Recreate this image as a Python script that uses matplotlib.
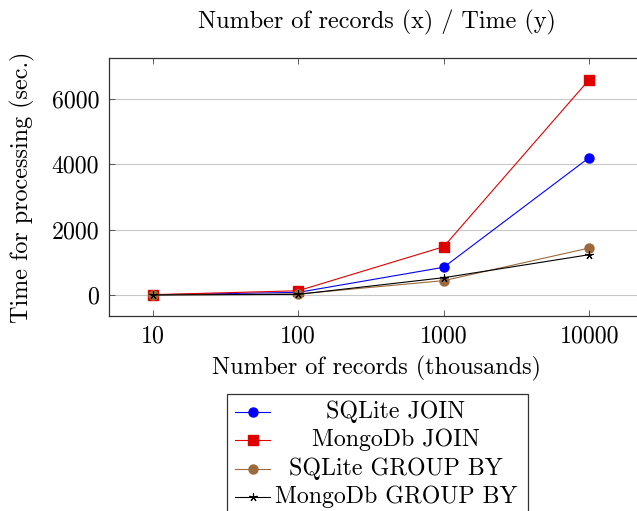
import matplotlib
matplotlib.use("Agg")
import matplotlib.pyplot as plt
from matplotlib.lines import Line2D
from matplotlib.patches import Rectangle

plt.rcParams["font.family"] = "cmr10"
plt.rcParams["axes.formatter.use_mathtext"] = True
plt.rcParams["mathtext.fontset"] = "cm"

# data
records = [10, 100, 1000, 10000]
sqlite_join = [5, 80, 850, 4210]
mongo_join = [10, 130, 1480, 6600]
sqlite_group = [3, 30, 440, 1440]
mongo_group = [2, 20, 530, 1235]

series_labels = ["SQLite JOIN", "MongoDb JOIN", "SQLite GROUP BY", "MongoDb GROUP BY"]
x_tick_labels = ["10", "100", "1000", "10000"]
y_ticks = [0, 2000, 4000, 6000]

title = "Number of records (x) / Time (y)"
x_title = "Number of records (thousands)"
y_title = "Time for processing (sec.)"

STYLES = [
    dict(color="#0000ff", marker="o", markersize=6.5, mec="#0000ff"),
    dict(color="#e00000", marker="s", markersize=6.5, mec="#e00000"),
    dict(color="#9c6a3c", marker="o", markersize=6.5, mec="#9c6a3c"),
    dict(color="#000000", marker=(5, 2, 0), markersize=6, mec="#000000", mew=0.8),
]

W, H = 637, 511
fig = plt.figure(figsize=(W / 100, H / 100), dpi=100)

# axes box in pixels: left 109, top 58, bottom 316; right edge falls off the picture
ax = fig.add_axes([109 / W, 1 - 316 / H, 535 / W, 258 / H])
ax.set_xscale("log")

for values, label, style in zip(
    [sqlite_join, mongo_join, sqlite_group, mongo_group], series_labels, STYLES
):
    ax.plot(records, values, lw=0.8, label=label, **style)

ax.set_xlim(10 ** 0.70, 10 ** 4.376)
ax.set_ylim(-643, 7259)
ax.minorticks_off()
ax.set_xticks(records)
ax.set_xticklabels(x_tick_labels)
ax.set_yticks(y_ticks)
ax.set_yticklabels([str(v) for v in y_ticks])
ax.tick_params(direction="in", top=True, right=False, length=4.5, width=0.6,
               labelsize=17.2, pad=7, color="#444444")
ax.yaxis.grid(True, color="#c8c8c8", lw=0.8)
ax.set_axisbelow(True)
for sp in ax.spines.values():
    sp.set_linewidth(0.9)
    sp.set_color("#333333")
ax.spines["right"].set_visible(False)

fig.text(377 / W, 1 - 22 / H, title, ha="center", va="center", fontsize=17.4)
fig.text(376 / W, 1 - 368 / H, x_title, ha="center", va="center", fontsize=17.4)
fig.text(22 / W, 1 - 187 / H, y_title, ha="center", va="center",
         rotation=90, fontsize=17.4)

# legend drawn by hand so the labels can be centred like in pgfplots
lax = fig.add_axes([0, 0, 1, 1], zorder=5)
lax.set_xlim(0, W)
lax.set_ylim(H, 0)
lax.axis("off")
lax.add_patch(Rectangle((227, 394), 301, 140, fc="white", ec="#333333",
                        lw=0.9, clip_on=False))
row_y = [412, 440, 469, 497]
for yy, label, style in zip(row_y, series_labels, STYLES):
    lax.add_line(Line2D([235, 270], [yy, yy], lw=0.8, color=style["color"]))
    lax.add_line(Line2D([252.5], [yy], lw=0, **style))
    lax.text(396, yy, label, ha="center", va="center", fontsize=17.2)

fig.savefig("out.png", dpi=100)
